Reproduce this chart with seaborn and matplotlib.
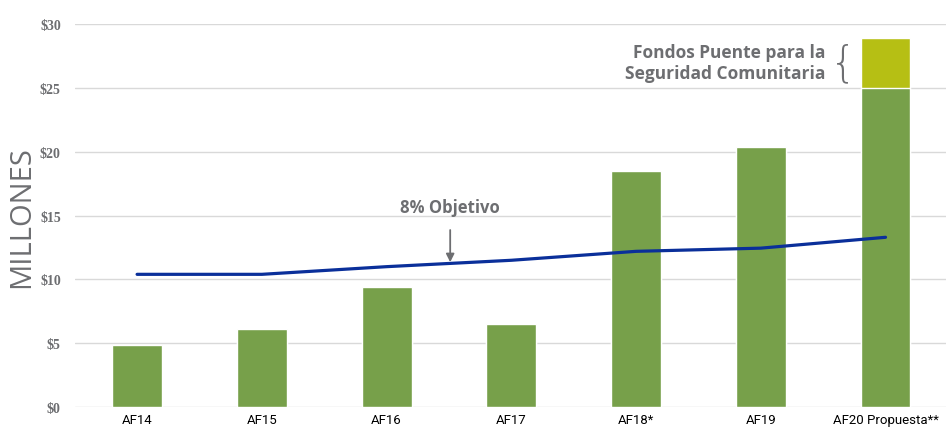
import numpy as np
import pandas as pd
import matplotlib
matplotlib.use("Agg")
import matplotlib.pyplot as plt
import seaborn as sns

years = ["AF14", "AF15", "AF16", "AF17", "AF18*", "AF19", "AF20 Propuesta**"]
base_funds = [4.9, 6.1, 9.4, 6.5, 18.5, 20.4, 25.0]
bridge_funds = [0, 0, 0, 0, 0, 0, 3.9]
target_8pct = [10.4, 10.4, 11.0, 11.5, 12.2, 12.45, 13.3]
y_ticks = [0, 5, 10, 15, 20, 25, 30]

df = pd.DataFrame({"year": years, "base": base_funds, "bridge": bridge_funds,
                   "target": target_8pct})
df["total"] = df["base"] + df["bridge"]

sns.set_style("white")
grey = "#6d6e71"

fig, ax = plt.subplots(figsize=(9.46, 4.31), dpi=100)
fig.subplots_adjust(left=0.079, right=1.002, top=0.942, bottom=0.053)

sns.barplot(data=df, x="year", y="total", color="#b6bf14", saturation=1,
            width=0.4, ax=ax, zorder=2)
sns.barplot(data=df, x="year", y="base", color="#77a04a", saturation=1,
            width=0.4, ax=ax, zorder=3)
sns.lineplot(x=np.arange(len(years)), y=df["target"], color="#0a2f9a",
             linewidth=2.3, ax=ax, zorder=4)

ax.set_ylim(0, 30)
ax.set_xlim(-0.5, 6.5)
ax.set_yticks(y_ticks)
ax.set_yticklabels([f"${v}" for v in y_ticks], family="Liberation Serif",
                   fontweight="bold", fontsize=10, color=grey)
ax.set_xticks(range(len(years)))
ax.set_xticklabels(years, family="Roboto", fontsize=9.5, color="black")
ax.tick_params(axis="y", length=0, pad=10)
ax.tick_params(axis="x", length=0, pad=4)
ax.yaxis.grid(True, color="#d9d9d9", linewidth=1)
ax.set_axisbelow(True)
for s in ax.spines.values():
    s.set_visible(False)
ax.set_xlabel("")
ax.set_ylabel("MILLONES", fontsize=21, color=grey, family="Open Sans")
ax.yaxis.set_label_coords(-0.044, 0.5)

ax.annotate("8% Objetivo", xy=(2.51, 11.35), xytext=(2.51, 15.7),
            ha="center", va="center", fontsize=12, fontweight="bold",
            color=grey, family="Open Sans",
            arrowprops=dict(arrowstyle="-|>", color=grey, lw=1.3,
                            shrinkA=8, shrinkB=0, mutation_scale=12))

ax.text(5.52, 27.0, "Fondos Puente para la\nSeguridad Comunitaria",
        ha="right", va="center", fontsize=12.5, fontweight="bold", color=grey,
        family="Open Sans", linespacing=1.25)
ax.text(5.66, 27.0, "{", ha="center", va="center", fontsize=30,
        color=grey, family="DejaVu Sans", fontweight="light")

fig.savefig("out.png", dpi=100)
